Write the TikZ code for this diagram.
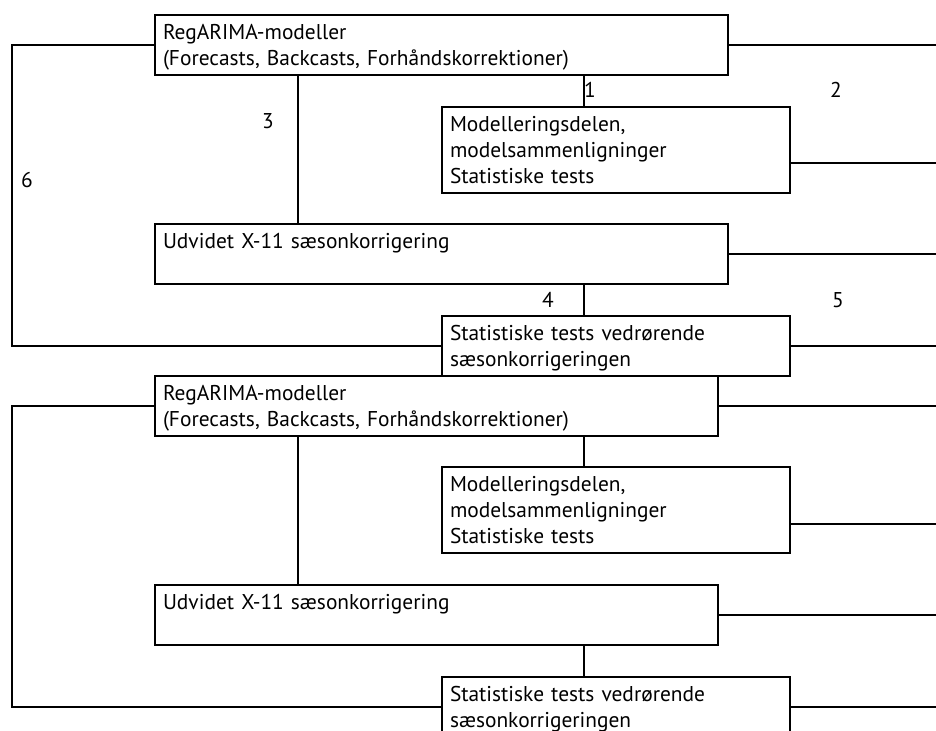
\documentclass[tikz,border=0pt]{standalone}
\usepackage{fontspec}
\setmainfont{PT Sans}
\usepackage{tikz}

\begin{document}
\begin{tikzpicture}[x=0.5pt,y=-0.5pt,line width=1pt,
    box/.style={draw,anchor=north west,align=left,inner xsep=4pt,inner ysep=1.75pt,
        font=\fontsize{10.7}{13}\selectfont,
        execute at begin node=\rule{0pt}{10.5pt},execute at end node=\rule[-3pt]{0pt}{3pt}},
    num/.style={font=\fontsize{10.7}{13}\selectfont}]
\useasboundingbox (0,0) rectangle (936,731);
\clip (0,0) rectangle (936,731);

% Guide lines
\coordinate (lft) at (12,0);
\coordinate (vA) at (298,0);
\coordinate (vB) at (584,0);
\coordinate (rim) at (936,0);

% First run
\node[box,text width=278.5pt] (reg1) at (154,14) {RegARIMA-modeller\\(Forecasts, Backcasts, Forhåndskorrektioner)};
\node[box,text width=166pt] (mod1) at (441,106) {Modelleringsdelen,\\modelsammenligninger\\Statistiske tests};
\node[box,text width=278.5pt] (udv1) at (154,223) {Udvidet X-11 sæsonkorrigering\\};
\node[box,text width=166pt] (stat1) at (441,315) {Statistiske tests vedrørende\\sæsonkorrigeringen};

\draw (reg1.south -| vA) -- (udv1.north -| vA);
\draw (reg1.south -| vB) -- (mod1.north -| vB);
\draw (udv1.south -| vB) -- (stat1.north -| vB);
\draw (reg1.east) -- (reg1.east -| rim);
\draw ([yshift=-6.75pt]mod1.east) coordinate (m1) -- (m1 -| rim);
\draw (udv1.east) -- (udv1.east -| rim);
\draw (stat1.east) -- (stat1.east -| rim);
\draw (reg1.west) -| (lft |- stat1.west) -- (stat1.west);

\node[num] (n1) at (590,90) {1};
\node[num] (n2) at (836,90) {2};
\node[num] (n3) at (268,121) {3};
\node[num] (n4) at (548,300) {4};
\node[num] (n5) at (838,300) {5};
\node[num] (n6) at (27,180) {6};

% Second run
\node[box,text width=273.5pt] (reg2) at (154,375) {RegARIMA-modeller\\(Forecasts, Backcasts, Forhåndskorrektioner)};
\node[box,text width=166pt] (mod2) at (441,466) {Modelleringsdelen,\\modelsammenligninger\\Statistiske tests};
\node[box,text width=273.5pt] (udv2) at (154,584) {Udvidet X-11 sæsonkorrigering\\};
\node[box,text width=166pt] (stat2) at (441,676) {Statistiske tests vedrørende\\sæsonkorrigeringen};

\draw (reg2.south -| vA) -- (udv2.north -| vA);
\draw (reg2.south -| vB) -- (mod2.north -| vB);
\draw (udv2.south -| vB) -- (stat2.north -| vB);
\draw (reg2.east) -- (reg2.east -| rim);
\draw ([yshift=-6.75pt]mod2.east) coordinate (m2) -- (m2 -| rim);
\draw (udv2.east) -- (udv2.east -| rim);
\draw (stat2.east) -- (stat2.east -| rim);
\draw (reg2.west) -| (lft |- stat2.west) -- (stat2.west);

\end{tikzpicture}
\end{document}
